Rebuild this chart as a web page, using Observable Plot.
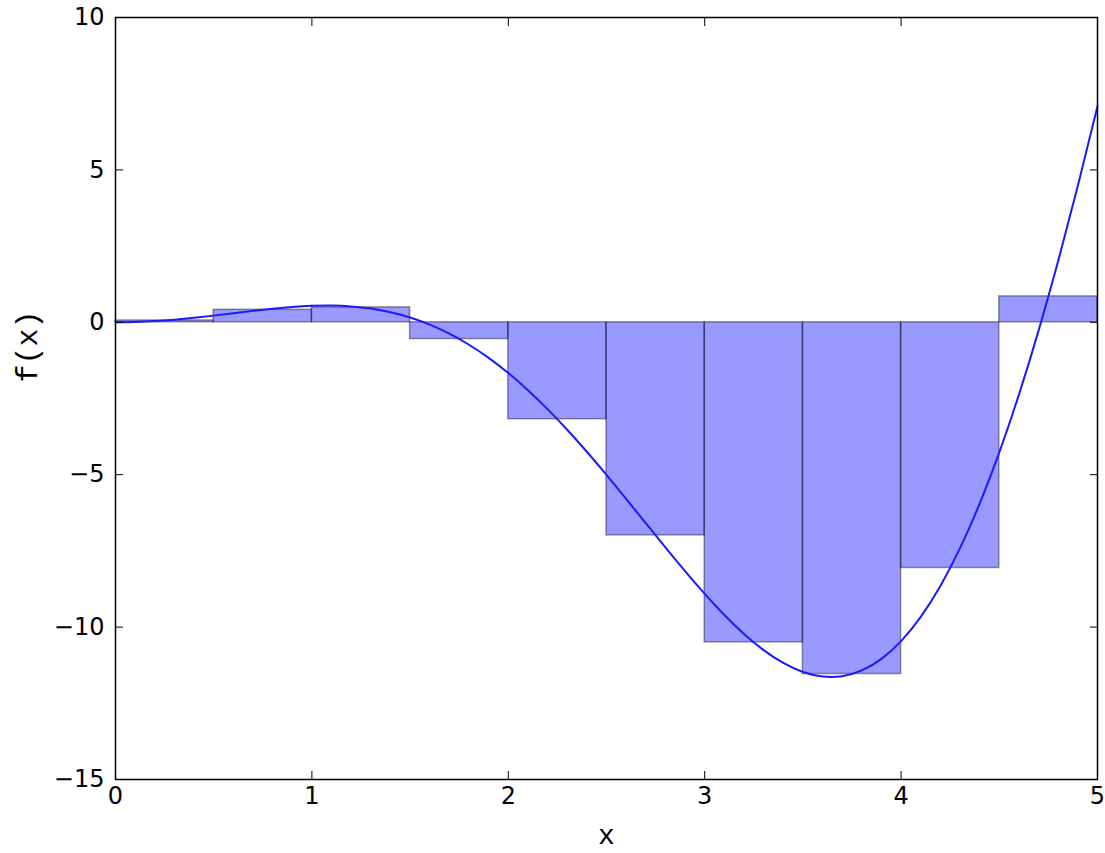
<!DOCTYPE html>
<html><head><meta charset="utf-8">
<script src="https://cdn.jsdelivr.net/npm/d3@7"></script>
<script src="https://cdn.jsdelivr.net/npm/@observablehq/plot@0.6"></script>
<style>body{margin:0;background:#fff}</style>
</head><body><div id="chart"></div>
<script>
// Riemann (midpoint) bars
const binStart = [0, 0.5, 1, 1.5, 2, 2.5, 3, 3.5, 4, 4.5];
const binEnd   = [0.5, 1, 1.5, 2, 2.5, 3, 3.5, 4, 4.5, 5];
const barHeights = [0.06, 0.41, 0.49, -0.55, -3.18, -6.99, -10.50, -11.54, -8.06, 0.85];

// curve samples
const curveX = [0,0.1,0.2,0.3,0.4,0.5,0.6,0.7,0.8,0.9,1.0,1.1,1.2,1.3,1.4,1.5,1.6,1.7,1.8,1.9,2.0,2.1,2.2,2.3,2.4,2.5,2.6,2.7,2.8,2.9,3.0,3.1,3.2,3.3,3.4,3.5,3.6,3.7,3.8,3.9,4.0,4.1,4.2,4.3,4.4,4.5,4.6,4.7,4.8,4.9,5.0];
const curveY = [0,0.01,0.039,0.086,0.147,0.219,0.297,0.375,0.446,0.504,0.540,0.549,0.522,0.452,0.333,0.159,-0.075,-0.372,-0.736,-1.167,-1.665,-2.226,-2.848,-3.525,-4.247,-5.007,-5.793,-6.591,-7.387,-8.166,-8.910,-9.602,-10.223,-10.754,-11.176,-11.472,-11.622,-11.611,-11.422,-11.041,-10.458,-9.663,-8.648,-7.411,-5.950,-4.269,-2.373,-0.274,2.016,4.478,7.092];

const xTicks = [0, 1, 2, 3, 4, 5];
const yTicks = [-15, -10, -5, 0, 5, 10];
const xLabel = "x";
const yLabel = "f(x)";

const bars = binStart.map((x, i) => ({x1: x, x2: binEnd[i], y1: 0, y2: barHeights[i]}));
const curve = curveX.map((x, i) => ({x, y: curveY[i]}));
const fmt = d => d < 0 ? "\u2212" + (-d) : String(d);

const chart = Plot.plot({
  width: 1105, height: 853,
  marginLeft: 115, marginRight: 8, marginTop: 17, marginBottom: 74,
  x: {domain: [0, 5]},
  y: {domain: [-15, 10]},
  style: {fontFamily: "DejaVu Sans", fontSize: "24px", color: "black", background: "white"},
  marks: [
    Plot.rect(bars, {x1: "x1", x2: "x2", y1: "y1", y2: "y2", fill: "blue", fillOpacity: 0.4, stroke: "black", strokeOpacity: 0.4, strokeWidth: 1.5}),
    Plot.line(curve, {x: "x", y: "y", stroke: "#1a1aff", strokeWidth: 2, curve: "natural"}),
    Plot.frame({stroke: "black", strokeWidth: 1.5}),
    Plot.axisX({anchor: "bottom", ticks: xTicks, tickSize: -8, tickPadding: 15, tickFormat: fmt, label: null, fontSize: 24}),
    Plot.axisX({anchor: "top", ticks: xTicks, tickSize: -8, tickFormat: () => "", label: null}),
    Plot.axisY({anchor: "left", ticks: yTicks, tickSize: -8, tickPadding: 19, tickFormat: fmt, label: null, fontSize: 24}),
    Plot.axisY({anchor: "right", ticks: yTicks, tickSize: -8, tickFormat: () => "", label: null}),
    Plot.text([xLabel], {text: d => d, frameAnchor: "bottom", dy: 56, fontFamily: "Liberation Mono", fontSize: 28, lineAnchor: "middle"}),
    Plot.text([yLabel], {text: d => d, frameAnchor: "left", dx: -88, dy: -16, rotate: -90, fontFamily: "Liberation Mono", fontSize: 30, lineAnchor: "middle"})
  ]
});
document.getElementById("chart").append(chart);
</script>
</body></html>
